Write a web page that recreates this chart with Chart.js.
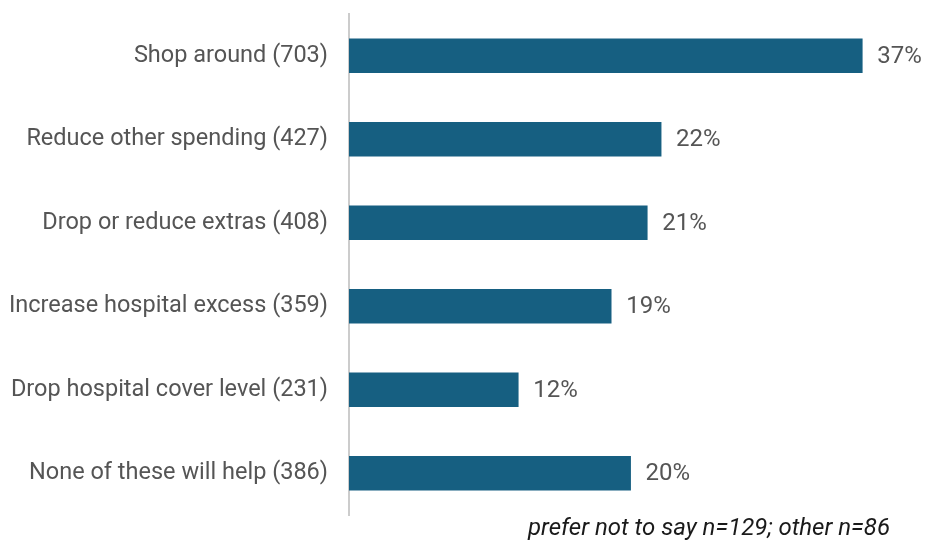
<!DOCTYPE html>
<html>
<head>
<meta charset="utf-8">
<script src="https://cdn.jsdelivr.net/npm/chart.js@4/dist/chart.umd.min.js"></script>
<style>
  html, body { margin: 0; padding: 0; background: #fff; }
  #wrap { width: 927px; height: 543px; }
</style>
</head>
<body>
<div id="wrap"><canvas id="actionsChart"></canvas></div>
<script>
// Actions people would take if premiums rise - horizontal bars, share of respondents
const categories = [
  'Shop around (703)',
  'Reduce other spending (427)',
  'Drop or reduce extras (408)',
  'Increase hospital excess (359)',
  'Drop hospital cover level (231)',
  'None of these will help (386)'
];
const shares = [37.0, 22.5, 21.5, 18.9, 12.2, 20.3]; // % of respondents
const shareLabels = ['37%', '22%', '21%', '19%', '12%', '20%'];
const footnote = 'prefer not to say n=129; other n=86';

const FONT = 'Roboto';
const TEXT = '#555555';

// draws the % value at the end of each bar
const barValueLabels = {
  id: 'barValueLabels',
  afterDatasetsDraw(chart) {
    const c = chart.ctx;
    const meta = chart.getDatasetMeta(0);
    c.save();
    c.font = '24px ' + FONT;
    c.fillStyle = TEXT;
    c.textAlign = 'left';
    c.textBaseline = 'middle';
    meta.data.forEach((bar, i) => {
      c.fillText(shareLabels[i], bar.x + 15, bar.y + 1);
    });
    c.restore();
  }
};

new Chart(document.getElementById('actionsChart'), {
  type: 'bar',
  data: {
    labels: categories,
    datasets: [{
      data: shares,
      backgroundColor: '#165f81',
      borderWidth: 0,
      barThickness: 34
    }]
  },
  options: {
    indexAxis: 'y',
    responsive: true,
    maintainAspectRatio: false,
    animation: false,
    layout: { padding: { top: 14, right: 37, left: 0, bottom: 0 } },
    plugins: {
      legend: { display: false },
      tooltip: { enabled: false }
    },
    scales: {
      x: {
        min: 0,
        max: 39,
        grid: { display: false },
        border: { display: false },
        ticks: { display: false },
        title: {
          display: true,
          text: footnote,
          align: 'end',
          color: '#1a1a1a',
          font: { family: FONT, size: 24, style: 'italic' },
          padding: { top: 1, bottom: 0 }
        },
        afterFit(scale) { scale.height = 28; }
      },
      y: {
        grid: { display: false, drawTicks: false },
        border: { display: true, color: '#cccccc', width: 2 },
        ticks: {
          color: TEXT,
          padding: 21,
          font: { family: FONT, size: 23.5 }
        },
        afterFit(scale) {
          scale.width = 349;
          scale.paddingTop = 0;
          scale.paddingBottom = 0;
        }
      }
    }
  },
  plugins: [barValueLabels]
});
</script>
</body>
</html>
